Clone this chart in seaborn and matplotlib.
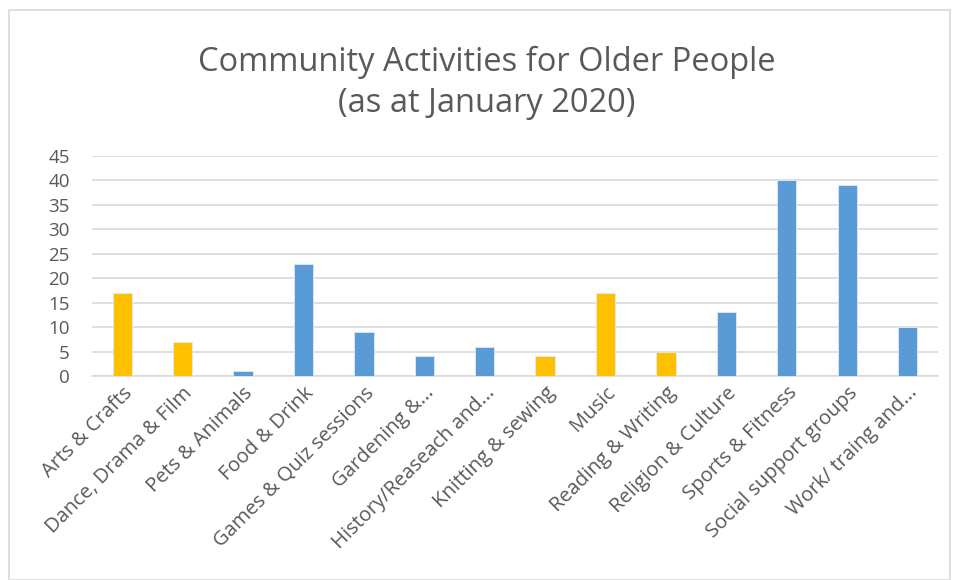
import matplotlib
matplotlib.use("Agg")
import matplotlib.pyplot as plt
import seaborn as sns
import pandas as pd
from matplotlib.patches import Rectangle

categories = ["Arts & Crafts", "Dance, Drama & Film", "Pets & Animals", "Food & Drink",
              "Games & Quiz sessions", "Gardening &...", "History/Reaseach and...",
              "Knitting & sewing", "Music", "Reading & Writing", "Religion & Culture",
              "Sports & Fitness", "Social support groups", "Work/ traing and..."]
values = [17, 7, 1, 23, 9, 4, 6, 4, 17, 5, 13, 40, 39, 10]
groups = ["y", "y", "b", "b", "b", "b", "b", "y", "y", "y", "b", "b", "b", "b"]
group_colors = {"y": "#FFC000", "b": "#5B9BD5"}
title = "Community Activities for Older People\n(as at January 2020)"
yticks = [0, 5, 10, 15, 20, 25, 30, 35, 40, 45]

sns.set_theme(style="white")
plt.rcParams['font.family'] = ['Open Sans', 'DejaVu Sans']

df = pd.DataFrame({"cat": categories, "val": values, "grp": groups})

fig = plt.figure(figsize=(9.56, 5.8), dpi=100)
ax = fig.add_axes([0.0962, 0.3517, 0.8848, 0.3793])

sns.barplot(data=df, x="cat", y="val", hue="grp", palette=group_colors, dodge=False,
            width=0.32, legend=False, ax=ax, edgecolor="#DDEBF7", linewidth=0.6,
            saturation=1, zorder=3)

ax.set_ylim(0, 45)
ax.set_yticks(yticks)
ax.set_xlim(-0.5, len(categories) - 0.5)
ax.yaxis.grid(True, color="#D9D9D9", linewidth=1.2, zorder=0)
ax.set_axisbelow(True)
for s in ["top", "right", "left"]:
    ax.spines[s].set_visible(False)
ax.spines["bottom"].set_color("#D9D9D9")
ax.spines["bottom"].set_linewidth(1.2)
ax.set_xlabel("")
ax.set_ylabel("")
ax.tick_params(axis="y", labelsize=13.5, labelcolor="#595959", length=0, pad=16)
ax.tick_params(axis="x", labelsize=14.5, labelcolor="#595959", length=0, pad=5)
plt.setp(ax.get_xticklabels(), rotation=45, ha="right", rotation_mode="anchor")

fig.text(0.509, 0.857, title, ha="center", va="center", fontsize=23.5, color="#595959",
         linespacing=1.35)

fig.patches.append(Rectangle((0.009, 0.0), 0.985, 0.982, transform=fig.transFigure,
                             fill=False, edgecolor="#D9D9D9", linewidth=1.2))

fig.savefig("out.png", dpi=100)
